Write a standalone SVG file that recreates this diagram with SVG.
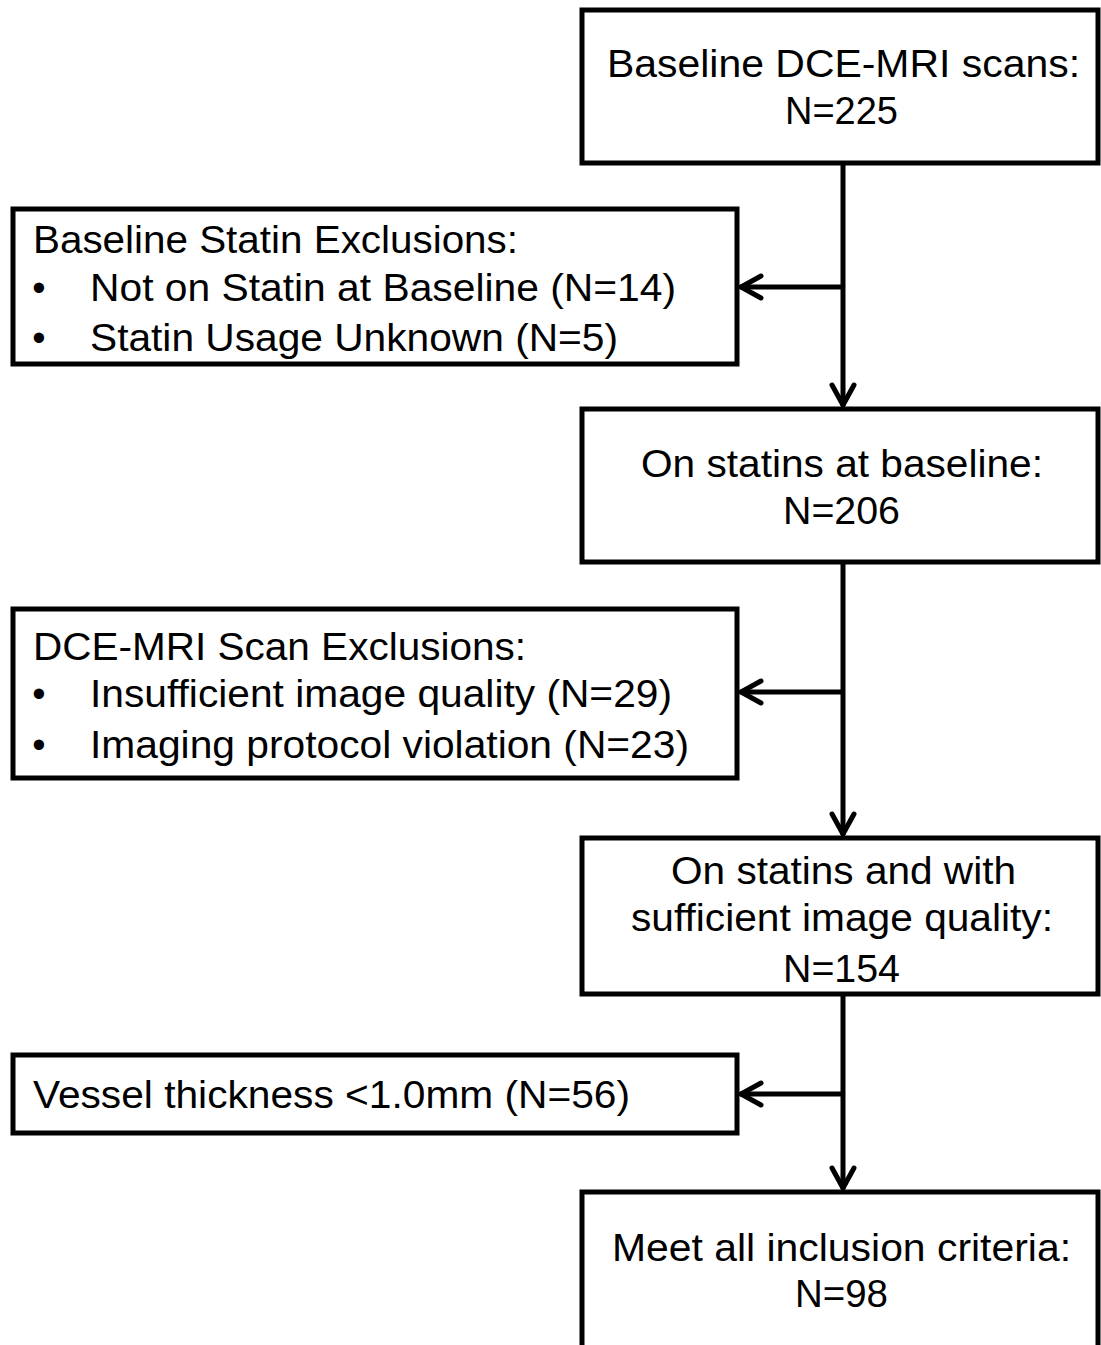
<svg xmlns="http://www.w3.org/2000/svg" width="1101" height="1345" viewBox="0 0 1101 1345">
<style>
.box{fill:#fff;stroke:#000;stroke-width:5}
.t{font-family:"Liberation Sans",Arial,sans-serif;font-size:38px;fill:#000}
.c{text-anchor:middle}
.ln{stroke:#000;stroke-width:5;fill:none}
</style>
<defs>
<marker id="ah" markerUnits="userSpaceOnUse" markerWidth="40" markerHeight="40" viewBox="-30 -20 40 40" refX="0" refY="0" orient="auto">
<path d="M-21,-11 L-1,0 L-21,11" fill="none" stroke="#000" stroke-width="5" stroke-linecap="round" stroke-linejoin="miter"/>
</marker>
</defs>
<rect width="1101" height="1345" fill="#fff"/>
<g id="connectors">
<line class="ln" x1="843" y1="163" x2="843" y2="406" marker-end="url(#ah)"/>
<line class="ln" x1="843" y1="287" x2="740" y2="287" marker-end="url(#ah)"/>
<line class="ln" x1="843" y1="562" x2="843" y2="835" marker-end="url(#ah)"/>
<line class="ln" x1="843" y1="692" x2="740" y2="692" marker-end="url(#ah)"/>
<line class="ln" x1="843" y1="994" x2="843" y2="1189" marker-end="url(#ah)"/>
<line class="ln" x1="843" y1="1094" x2="740" y2="1094" marker-end="url(#ah)"/>
</g>
<g id="n1">
<rect class="box" x="582" y="10" width="516" height="153"/>
<text class="t c" x="843.5" y="77" textLength="473" lengthAdjust="spacingAndGlyphs">Baseline DCE-MRI  scans:</text>
<text class="t c" x="841.5" y="124" textLength="113" lengthAdjust="spacingAndGlyphs">N=225</text>
</g>
<g id="n2">
<rect class="box" x="13" y="209" width="724" height="155"/>
<text class="t" x="33" y="253" textLength="485" lengthAdjust="spacingAndGlyphs">Baseline Statin Exclusions:</text>
<text class="t c" x="39" y="301">•</text>
<text class="t" x="90" y="301" textLength="586" lengthAdjust="spacingAndGlyphs">Not on Statin at Baseline (N=14)</text>
<text class="t c" x="39" y="351">•</text>
<text class="t" x="90" y="351" textLength="528" lengthAdjust="spacingAndGlyphs">Statin Usage Unknown  (N=5)</text>
</g>
<g id="n3">
<rect class="box" x="582" y="409" width="516" height="153"/>
<text class="t c" x="842" y="477" textLength="402" lengthAdjust="spacingAndGlyphs">On statins at baseline:</text>
<text class="t c" x="841.5" y="524" textLength="117" lengthAdjust="spacingAndGlyphs">N=206</text>
</g>
<g id="n4">
<rect class="box" x="13" y="609" width="724" height="169"/>
<text class="t" x="33" y="660" textLength="493" lengthAdjust="spacingAndGlyphs">DCE-MRI Scan Exclusions:</text>
<text class="t c" x="39" y="707">•</text>
<text class="t" x="90" y="707" textLength="582" lengthAdjust="spacingAndGlyphs">Insufficient image quality (N=29)</text>
<text class="t c" x="39" y="758">•</text>
<text class="t" x="90" y="758" textLength="599" lengthAdjust="spacingAndGlyphs">Imaging  protocol violation (N=23)</text>
</g>
<g id="n5">
<rect class="box" x="582" y="838" width="516" height="156"/>
<text class="t c" x="843.5" y="884" textLength="345" lengthAdjust="spacingAndGlyphs">On statins and with</text>
<text class="t c" x="842" y="931" textLength="422" lengthAdjust="spacingAndGlyphs">sufficient image quality:</text>
<text class="t c" x="841.5" y="982" textLength="117" lengthAdjust="spacingAndGlyphs">N=154</text>
</g>
<g id="n6">
<rect class="box" x="13" y="1055" width="724" height="78"/>
<text class="t" x="33" y="1108" textLength="597" lengthAdjust="spacingAndGlyphs">Vessel thickness &lt;1.0mm  (N=56)</text>
</g>
<g id="n7">
<rect class="box" x="582" y="1192" width="516" height="160"/>
<text class="t c" x="841.5" y="1261" textLength="459" lengthAdjust="spacingAndGlyphs">Meet all  inclusion criteria:</text>
<text class="t c" x="841.5" y="1307" textLength="93" lengthAdjust="spacingAndGlyphs">N=98</text>
</g>
</svg>
